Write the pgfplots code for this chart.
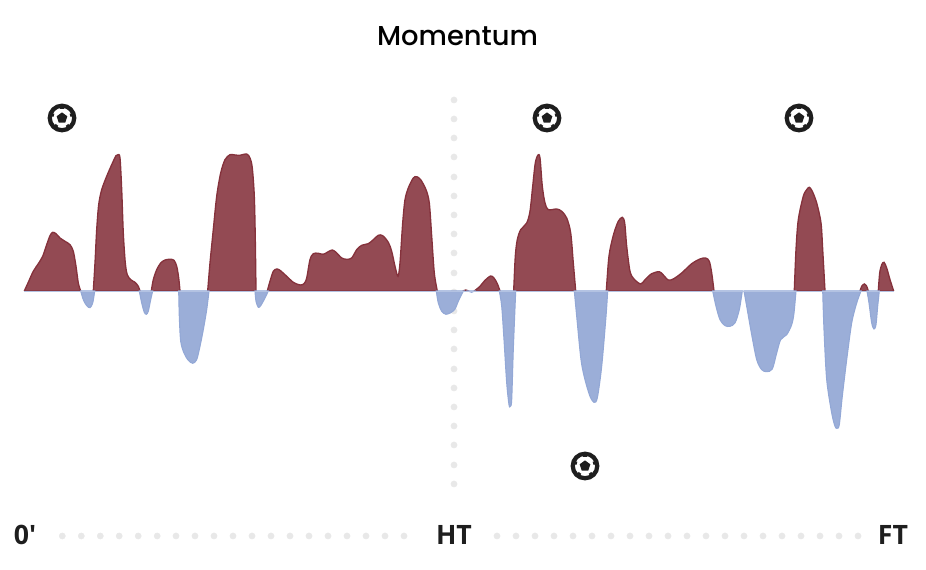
\documentclass[border=0pt]{standalone}
\usepackage{fontspec}
\setmainfont{Poppins Medium}
\newfontfamily\labelfont{Open Sans}
\usepackage{pgfplots}
\pgfplotsset{compat=1.18}

\definecolor{redfill}{HTML}{934A53}
\definecolor{redline}{HTML}{85323C}
\definecolor{bluefill}{HTML}{9BAED8}
\definecolor{blueline}{HTML}{93A8D6}
\definecolor{dotgrey}{HTML}{E8E8E8}
\definecolor{ink}{HTML}{1E1E1E}

% football icon, 1px = 0.75pt
\pgfdeclareplotmark{ball}{%
  \pgfsetlinewidth{3.2pt}%
  \pgfpathcircle{\pgfpointorigin}{9.2pt}%
  \pgfusepathqstroke
  \pgfsetlinewidth{2.4pt}%
  \foreach \a in {90,162,234,306,18}{%
    \pgfpathmoveto{\pgfpointpolar{\a}{8pt}}%
    \pgfpathlineto{\pgfpointpolar{\a}{6.4pt}}%
    \pgfusepathqstroke
  }%
  \pgfpathmoveto{\pgfpointpolar{90}{4.2pt}}%
  \pgfpathlineto{\pgfpointpolar{162}{4.2pt}}%
  \pgfpathlineto{\pgfpointpolar{234}{4.2pt}}%
  \pgfpathlineto{\pgfpointpolar{306}{4.2pt}}%
  \pgfpathlineto{\pgfpointpolar{18}{4.2pt}}%
  \pgfpathclose
  \pgfusepathqfill
}

\pgfplotsset{
  canvas/.style={
    hide axis, scale only axis, anchor=south west,
    width=694.5pt, xmin=0, xmax=926,
  },
}
\tikzset{
  up/.style={smooth, tension=0.5, draw=redline, line width=1pt, fill=redfill},
  down/.style={smooth, tension=0.5, draw=blueline, line width=0.8pt, fill=bluefill},
  endlabel/.style={font=\labelfont\bfseries\fontsize{20}{23}\selectfont, text=ink},
}

\begin{document}
\begin{tikzpicture}[x=1pt,y=1pt]
% dots, goals, text
\begin{axis}[canvas, at={(0pt,0pt)}, height=427.5pt, ymin=-279, ymax=291, clip=false]
  \addplot[only marks, mark=*, mark size=2.3pt, dotgrey, mark options={draw=none, fill=dotgrey}] coordinates {
    (454,191) (454,172) (454,153) (454,134) (454,114) (454,95) (454,76) (454,57) (454,38) (454,18)
    (454,-1) (454,-20) (454,-39) (454,-58) (454,-78) (454,-97) (454,-116) (454,-135) (454,-154) (454,-174) (454,-193)
    (62.3,-245) (81.3,-245) (100.3,-245) (119.2,-245) (138.2,-245) (157.2,-245) (176,-245) (195,-245)
    (214,-245) (233,-245) (252,-245) (271,-245) (290,-245) (309,-245) (328,-245) (347,-245) (366,-245) (385,-245) (404,-245)
    (497,-245) (516,-245) (535,-245) (554,-245) (573,-245) (592,-245) (611,-245) (630,-245) (649,-245) (668,-245)
    (687,-245) (706,-245) (725,-245) (744,-245) (763,-245) (782,-245) (801,-245) (820,-245) (839,-245) (858,-245)
  };
  \addplot[only marks, mark=ball, ink, mark options={draw=ink, fill=ink}] coordinates {
    (62,173) (547,173) (799,173) (585,-175)
  };
  \node[font=\fontsize{20.5}{24}\selectfont, text=black] at (axis cs:457.5,255) {Momentum};
  \node[endlabel] at (axis cs:25,-244) {0'};
  \node[endlabel] at (axis cs:454,-244) {HT};
  \node[endlabel] at (axis cs:893,-244) {FT};
\end{axis}
% home side above the line
\begin{axis}[canvas, at={(0pt,209.25pt)}, height=218.25pt, ymin=0, ymax=291]
  \addplot[up] coordinates {(24.3,0) (28.3,8.7) (33.3,19.7) (38.3,27.3) (42.7,34.7) (46.7,46.3) (50,55.3) (52.7,58.7) (56,57.3) (60,53) (65,49.7) (70,46.3) (73.3,39.7) (76,24.7) (78.3,8) (80.7,0)} \closedcycle;
  \addplot[up] coordinates {(93.3,0) (95,28) (96.7,61.3) (98.7,86.3) (101.7,101.3) (106.7,114.7) (111.7,126.3) (116,135.3) (118,136.3) (120,133) (121.7,101.3) (123.3,58) (125.3,28) (127.3,16.3) (130.7,11.3) (135,8.7) (138.3,4.7) (140,0)} \closedcycle;
  \addplot[up] coordinates {(151.3,0) (153.3,11.3) (156.7,21.3) (160.7,28) (165,31) (170,31.7) (174,30.7) (176.7,24.7) (178.7,13) (180,0)} \closedcycle;
  \addplot[up] coordinates {(207.7,0) (210,28) (213.3,61.3) (216.7,94.7) (220.7,118) (225,131.3) (230,136.3) (235,136) (240,135.7) (246.7,137) (250,133) (252.3,123) (254.3,94.7) (255.3,51.3) (256,0)} \closedcycle;
  \addplot[up] coordinates {(267.3,0) (270,9.7) (273.3,19.7) (276.7,22) (280,20.7) (286.7,14.7) (293.3,8.7) (300,6) (304,7.3) (306.7,13) (310,31.3) (313.3,37.3) (318.3,37.7) (323.3,36.7) (328.3,39.3) (332.3,41) (336,38.7) (341.7,33) (346.7,31.7) (351.7,33) (356.7,41.3) (361.7,45.7) (368.3,47.3) (373.3,51.3) (378.3,55.7) (382.7,55.3) (388.3,48.7) (391.7,39.7) (395,24.7) (398,14.7) (400,28) (402.7,68) (405,91.3) (408.3,103) (413.3,113) (416.7,114.3) (420.7,111.3) (426,101.3) (429.3,88) (431.7,54.7) (434.3,18) (437.3,0)} \closedcycle;
  \addplot[up] coordinates {(463.3,0) (465.7,1) (468.3,0)} \closedcycle;
  \addplot[up] coordinates {(474.3,0) (480,4.7) (485,10.7) (490.7,15) (494,13) (497.3,7.3) (500,0)} \closedcycle;
  \addplot[up] coordinates {(513.7,0) (515.3,34.7) (517.3,51.3) (520.7,61.3) (526.7,68) (530,79.7) (532.7,104.7) (535.3,128) (538,136) (540,133) (542.3,104.7) (545,88) (548.3,81.3) (556.7,82) (561.7,79.7) (566.7,73) (570.7,58) (573.3,28) (575.7,0)} \closedcycle;
  \addplot[up] coordinates {(606.3,0) (608.3,28) (610,41.3) (614,58) (618.3,69.7) (622.3,73.7) (624.7,68) (626.7,44.7) (630,19.7) (634,12) (640.7,7) (645,11.3) (651.7,17.3) (659.3,19.3) (663.3,16) (668.3,11) (673.3,12) (681.7,18) (691.7,27.3) (700,32) (705.7,33) (709.3,29.7) (711.7,18) (714,0)} \closedcycle;
  \addplot[up] coordinates {(794.3,0) (796,41.3) (798.3,71.3) (803.3,94.7) (806.7,101.3) (809.3,103.7) (812.3,99.7) (816.7,88) (821,68) (822.7,41.3) (825,0)} \closedcycle;
  \addplot[up] coordinates {(860,0) (861.7,4.7) (864.3,7) (866.7,4.7) (868.3,0)} \closedcycle;
  \addplot[up] coordinates {(878.3,0) (879.7,18) (881.7,26.3) (884,28.7) (886.7,23) (890,11.3) (893.7,0)} \closedcycle;
\end{axis}
% away side below the line
\begin{axis}[canvas, at={(0pt,0pt)}, height=209.625pt, ymin=-279, ymax=0.5]
  \addplot[down] coordinates {(80.7,0) (83.3,-8.7) (86.7,-14.7) (90,-16.7) (92.7,-12) (94.7,0)} \closedcycle;
  \addplot[down] coordinates {(139.3,0) (141.7,-12) (144.3,-21.3) (146.3,-23.3) (148.3,-20.3) (150.7,-8.7) (152.7,0)} \closedcycle;
  \addplot[down] coordinates {(178.7,0) (179.3,-25.3) (180.7,-50.3) (184,-62) (188.3,-69.3) (192.7,-72.3) (196.7,-68.7) (200,-55.3) (203.3,-38.7) (206.7,-18.7) (209,0)} \closedcycle;
  \addplot[down] coordinates {(255,0) (256,-10.3) (258.3,-16.3) (260.7,-14.7) (265,-7) (268.3,0)} \closedcycle;
  \addplot[down] coordinates {(436.3,0) (438.3,-12) (441.7,-20.3) (446,-23.3) (450.7,-21.7) (455,-18) (458.3,-10.3) (462.3,-2) (463.7,0)} \closedcycle;
  \addplot[down] coordinates {(468.3,0) (471.7,-1.3) (474.3,0)} \closedcycle;
  \addplot[down] coordinates {(499.3,0) (501.7,-15.3) (504,-48.7) (506.7,-92) (509,-113.7) (510.3,-115.3) (511.7,-108.7) (513.3,-58.7) (515.7,0)} \closedcycle;
  \addplot[down] coordinates {(574.3,0) (576.7,-25.3) (581,-68.7) (585,-88.7) (590,-105.3) (594,-111.3) (597.3,-107) (601.7,-75.3) (606,-25.3) (607.7,0)} \closedcycle;
  \addplot[down] coordinates {(712.7,0) (716,-15.3) (720,-28.7) (725,-34.7) (730,-35.3) (735,-32) (739.3,-18.7) (742.3,0)} \closedcycle;
  \addplot[down] coordinates {(744,0) (746.7,-15.3) (751.7,-43.7) (756.7,-68.7) (761.7,-78.7) (766.7,-80.7) (772.3,-78) (776.7,-62) (780.7,-48.7) (786.7,-43.7) (791.7,-33.7) (794,-22) (796,0)} \closedcycle;
  \addplot[down] coordinates {(822.7,0) (824,-38.7) (826.7,-88.7) (831.7,-122) (835,-135.3) (837,-137.3) (839.3,-133.7) (842.3,-105.3) (846.7,-68.7) (851.7,-32) (856.7,-12) (861,0)} \closedcycle;
  \addplot[down] coordinates {(867,0) (869,-12) (871.7,-32) (874,-38) (876,-33.7) (877.7,-15.3) (879.3,0)} \closedcycle;
  \addplot[draw=blueline!70, line width=0.4pt] coordinates {(24.3,0) (893.7,0)};
\end{axis}
\useasboundingbox (0pt,0pt) rectangle (694.5pt,427.5pt);
\end{tikzpicture}
\end{document}
